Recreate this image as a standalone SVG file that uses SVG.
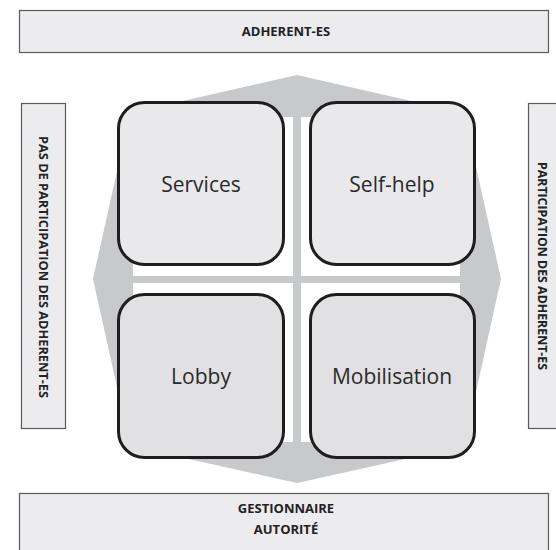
<svg xmlns="http://www.w3.org/2000/svg" width="556" height="550" viewBox="0 0 556 550">
  <style>
    .bar { fill: #ececee; stroke: #5a5a5a; stroke-width: 1.2; }
    .bar-label { font-family: "Open Sans", "Noto Sans", sans-serif; font-weight: bold; font-size: 13px; fill: #222; text-anchor: middle; }
    .quad { stroke: #1e1e1e; stroke-width: 3; }
    .quad-label { font-family: "Open Sans", "Noto Sans", sans-serif; font-size: 21px; fill: #2a2a2a; text-anchor: middle; }
    .axis { fill: #c8c9cb; }
  </style>

  <!-- Axis labels -->
  <g id="top-bar">
    <rect class="bar" x="19.5" y="10.5" width="529" height="42"/>
    <text class="bar-label" x="286" y="36">ADHERENT-ES</text>
  </g>
  <g id="bottom-bar">
    <rect class="bar" x="19.5" y="493.5" width="529" height="60"/>
    <text class="bar-label" x="286" y="513">GESTIONNAIRE</text>
    <text class="bar-label" x="286" y="534">AUTORITÉ</text>
  </g>
  <g id="left-bar">
    <rect class="bar" x="21.5" y="103.5" width="44" height="325"/>
    <text class="bar-label" transform="translate(39 267) rotate(90)" x="0" y="0" textLength="262" lengthAdjust="spacingAndGlyphs">PAS DE PARTICIPATION DES ADHERENT-ES</text>
  </g>
  <g id="right-bar">
    <rect class="bar" x="528.5" y="103.5" width="44" height="325"/>
    <text class="bar-label" transform="translate(538 266) rotate(90)" x="0" y="0" textLength="208" lengthAdjust="spacingAndGlyphs">PARTICIPATION DES ADHERENT-ES</text>
  </g>

  <!-- Background arrows: octagon with inner white field and cross -->
  <g id="connectors">
    <polygon class="axis" points="297,75 130,113 93,279 130,446 297,483 464,446 501,279 464,113"/>
    <rect x="133" y="117" width="327" height="325" fill="#ffffff"/>
    <rect class="axis" x="293" y="117" width="8" height="325"/>
    <rect class="axis" x="133" y="276" width="327" height="7"/>
  </g>

  <!-- Quadrants -->
  <g id="services">
    <rect class="quad" x="118.5" y="102.5" width="165" height="162" rx="26" fill="#e9e9eb"/>
    <text class="quad-label" x="201" y="192">Services</text>
  </g>
  <g id="self-help">
    <rect class="quad" x="310.5" y="102.5" width="164" height="162" rx="26" fill="#e9e9eb"/>
    <text class="quad-label" x="392" y="192">Self-help</text>
  </g>
  <g id="lobby">
    <rect class="quad" x="118.5" y="294.5" width="165" height="163" rx="26" fill="#e1e1e3"/>
    <text class="quad-label" x="201" y="384">Lobby</text>
  </g>
  <g id="mobilisation">
    <rect class="quad" x="310.5" y="294.5" width="164" height="163" rx="26" fill="#e1e1e3"/>
    <text class="quad-label" x="392" y="384">Mobilisation</text>
  </g>
</svg>
